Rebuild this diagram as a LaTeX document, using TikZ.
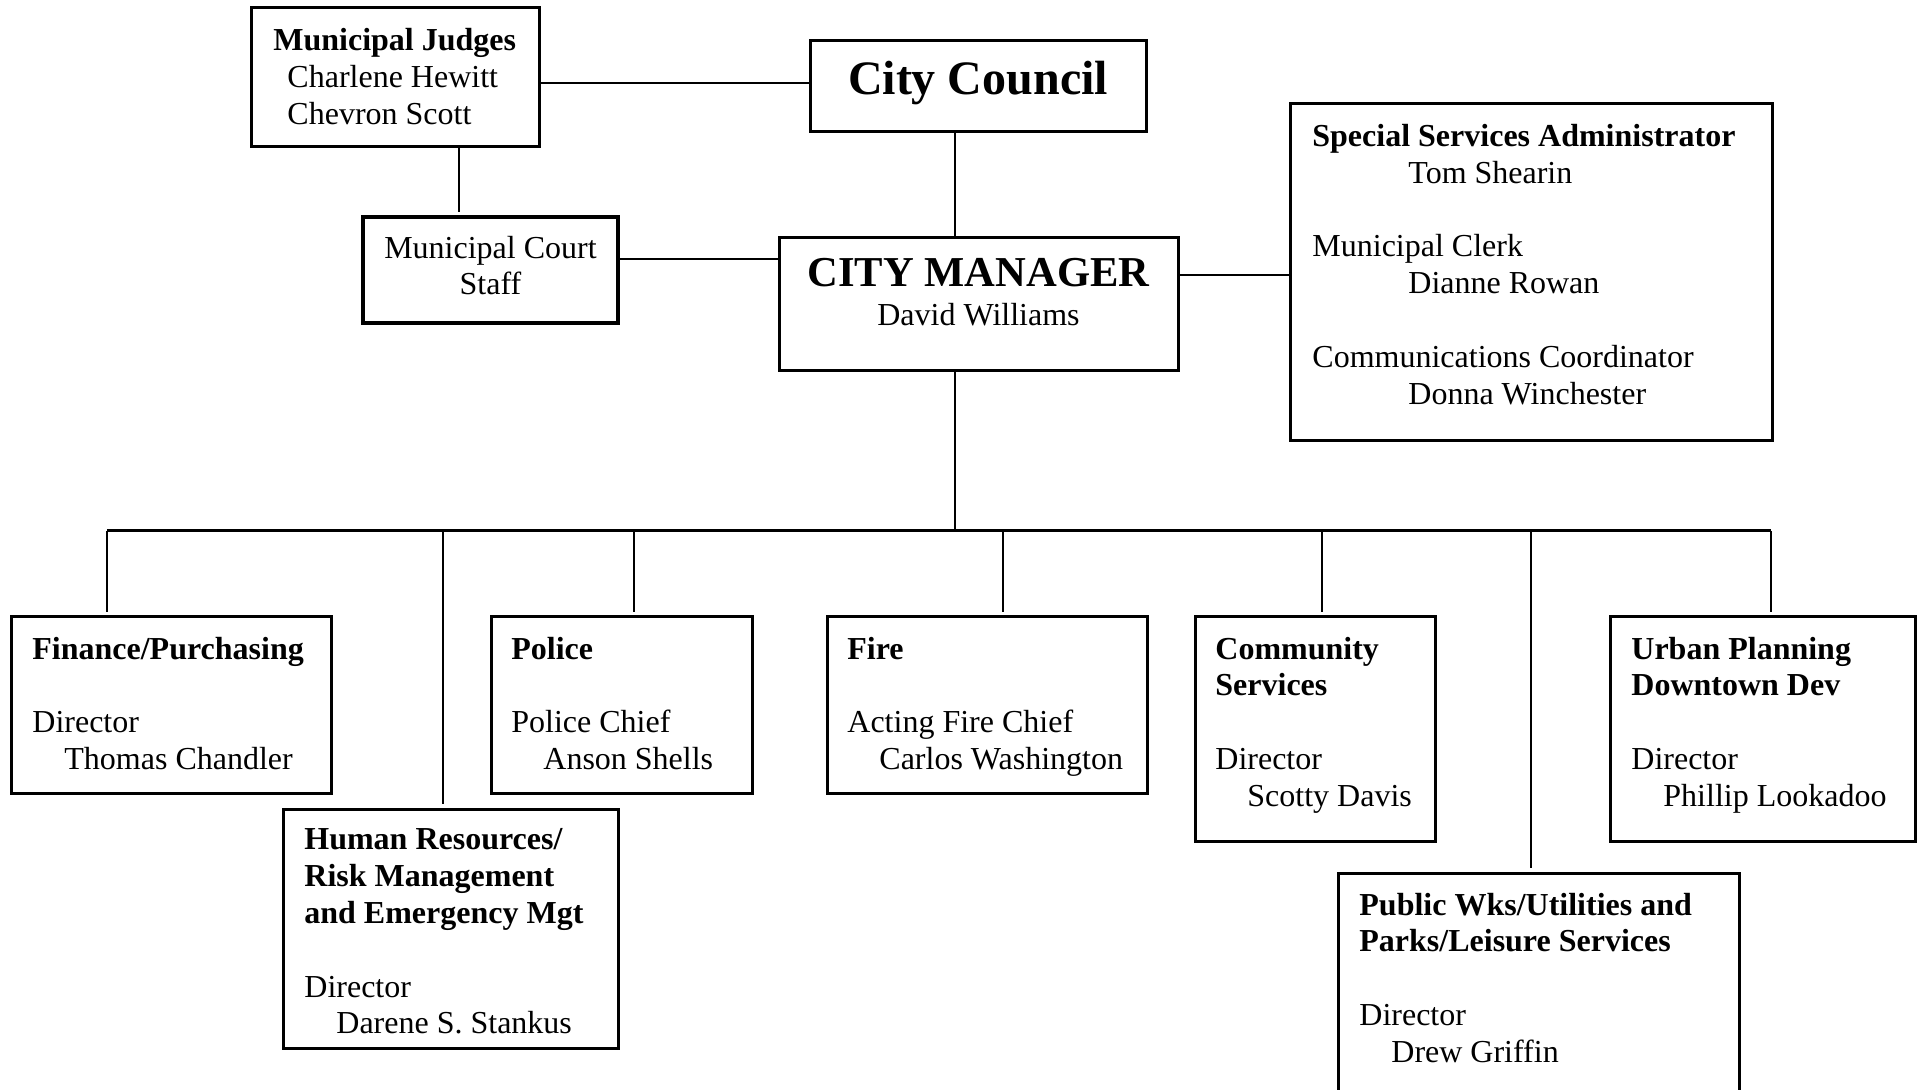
\documentclass[tikz,border=0pt]{standalone}
\usepackage{fontspec}
\setmainfont{Liberation Serif}
\usetikzlibrary{calc}
\newcommand{\bodyfont}{\fontsize{16}{18.4}\selectfont}
\newcommand{\ind}{\hspace*{1em}}
\tikzset{
  unit/.style={draw, line width=1.5pt, inner sep=0pt, outer sep=0pt, anchor=north west},
  txt/.style={inner sep=0pt, anchor=north west, align=left, font=\bodyfont, execute at begin node=\strut},
  ctxt/.style={inner sep=0pt, anchor=base, align=center, font=\bodyfont},
  link/.style={line width=1.3pt},
  bus/.style={line width=1.5pt},
}
\begin{document}
\begin{tikzpicture}[x=0.5pt, y=-0.5pt]
\useasboundingbox (0,0) rectangle (1923,1090);
% top of the chart
\node[unit, minimum width=144pt, minimum height=69.5pt] (judges) at (251,8) {};
\node[unit, minimum width=168pt, minimum height=45.5pt] (council) at (810,41) {};
\node[unit, line width=2pt, minimum width=127.5pt, minimum height=53pt] (court) at (363,217) {};
\node[unit, minimum width=199.5pt, minimum height=66.5pt] (cm) at (779,238) {};
\node[unit, minimum width=241pt, minimum height=168.5pt] (special) at (1290,104) {};
\node[txt] (judgesT) at ([shift={(22,20)}]judges.north west)
  {\textbf{Municipal Judges}\\ \hspace*{0.44em}Charlene Hewitt\\ \hspace*{0.44em}Chevron Scott};
\node[ctxt, font=\bfseries\fontsize{24}{28}\selectfont] (councilT) at ([shift={(0,54)}]council.north) {City Council};
\node[ctxt] (courtT) at ([shift={(0,78)}]court.north) {Municipal Court\\ Staff};
\node[ctxt] (cmT) at ([shift={(0,88)}]cm.north)
  {{\bfseries\fontsize{21.3}{24}\selectfont CITY MANAGER}\\[1.2pt] David Williams};
\node[txt] (specialT) at ([shift={(22,20)}]special.north west)
  {\textbf{Special Services Administrator}\\ \hspace*{3em}Tom Shearin\\[18.4pt]
   Municipal Clerk\\ \hspace*{3em}Dianne Rowan\\[18.4pt]
   Communications Coordinator\\ \hspace*{3em}Donna Winchester};
% departments
\node[unit, minimum width=160pt, minimum height=88pt] (fin) at (11,617) {};
\node[unit, minimum width=167.5pt, minimum height=119.5pt] (hr) at (283,809) {};
\node[unit, minimum width=130.5pt, minimum height=88pt] (police) at (491,617) {};
\node[unit, minimum width=160pt, minimum height=88pt] (fire) at (827,617) {};
\node[unit, minimum width=120pt, minimum height=112pt] (comm) at (1195,617) {};
\node[unit, minimum width=152.5pt, minimum height=112pt] (urban) at (1610,617) {};
\node[unit, minimum width=200.5pt, minimum height=125pt] (pw) at (1338,873) {};
\node[txt] (finT) at ([shift={(21,19.5)}]fin.north west)
  {\textbf{Finance/Purchasing}\\[18.4pt] Director\\ \ind Thomas Chandler};
\node[txt] (hrT) at ([shift={(21,19.5)}]hr.north west)
  {\textbf{Human Resources/}\\ \textbf{Risk Management}\\ \textbf{and Emergency Mgt}\\[18.4pt] Director\\ \ind Darene S. Stankus};
\node[txt] (policeT) at ([shift={(20,19.5)}]police.north west)
  {\textbf{Police}\\[18.4pt] Police Chief\\ \ind Anson Shells};
\node[txt] (fireT) at ([shift={(20,19.5)}]fire.north west)
  {\textbf{Fire}\\[18.4pt] Acting Fire Chief\\ \ind Carlos Washington};
\node[txt] (commT) at ([shift={(20,19.5)}]comm.north west)
  {\textbf{Community}\\ \textbf{Services}\\[18.4pt] Director\\ \ind Scotty Davis};
\node[txt] (urbanT) at ([shift={(21,19.5)}]urban.north west)
  {\textbf{Urban Planning}\\ \textbf{Downtown Dev}\\[18.4pt] Director\\ \ind Phillip Lookadoo};
\node[txt] (pwT) at ([shift={(21,19.5)}]pw.north west)
  {\textbf{Public Wks/Utilities and}\\ \textbf{Parks/Leisure Services}\\[18.4pt] Director\\ \ind Drew Griffin};
% connectors
\coordinate (jcY) at (0,83);
\coordinate (ccY) at (0,259);
\coordinate (csY) at (0,275);
\coordinate (jX) at (459,0);
\coordinate (vX) at (955,0);
\draw[link] (judges.east |- jcY) -- (council.west |- jcY);
\draw[link] (judges.south -| jX) -- ($(court.north -| jX)+(0,-5)$);
\draw[link] (court.east |- ccY) -- (cm.west |- ccY);
\draw[link] (council.south -| vX) -- (cm.north -| vX);
\draw[link] (cm.east |- csY) -- (special.west |- csY);
\foreach \b/\x in {fin/107, hr/443, police/634, fire/1003, comm/1322, pw/1531, urban/1771}{
  \coordinate (d\b) at (\x,531);
  \draw[link] (d\b) -- ($(d\b |- \b.north)+(0,-5)$);
}
\draw[bus] (dfin) -- (durban);
\draw[link] (cm.south -| vX) -- (vX |- dfin);
\end{tikzpicture}
\end{document}
